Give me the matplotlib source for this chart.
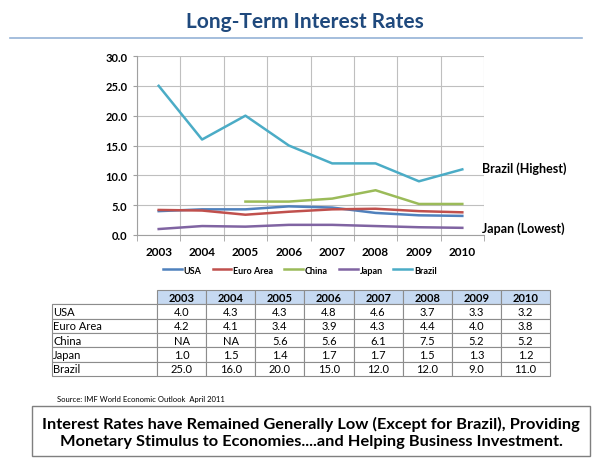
import numpy as np
import matplotlib
matplotlib.use("Agg")
import matplotlib.pyplot as plt
from matplotlib.table import Table
from matplotlib.patches import Rectangle
from matplotlib.lines import Line2D

plt.rcParams['font.family'] = ['Lato', 'DejaVu Sans']

# Datos
years = ['2003', '2004', '2005', '2006', '2007', '2008', '2009', '2010']
usa = [4.0, 4.3, 4.3, 4.8, 4.6, 3.7, 3.3, 3.2]
euro = [4.2, 4.1, 3.4, 3.9, 4.3, 4.4, 4.0, 3.8]
china = [np.nan, np.nan, 5.6, 5.6, 6.1, 7.5, 5.2, 5.2]
japan = [1.0, 1.5, 1.4, 1.7, 1.7, 1.5, 1.3, 1.2]
brazil = [25.0, 16.0, 20.0, 15.0, 12.0, 12.0, 9.0, 11.0]
series_names = ['USA', 'Euro Area', 'China', 'Japan', 'Brazil']
series_vals = [usa, euro, china, japan, brazil]
colors = ['#4F81BD', '#C0504D', '#9BBB59', '#8064A2', '#4BACC6']

W, H = 600, 464
fig = plt.figure(figsize=(6, 4.64), dpi=100)

def fx(px):
    return px / W

def fy(py):
    return 1 - py / H

# Titulo y linea
fig.text(fx(305), fy(22), 'Long-Term Interest Rates', ha='center', va='center',
         fontsize=15, fontweight='bold', color='#1F497D')
fig.add_artist(Line2D([fx(10), fx(582)], [fy(39), fy(39)], color='#95B3D7', lw=1.2))

# Grafico de lineas
ax = fig.add_axes([fx(137), fy(236), fx(484) - fx(137), fy(57) - fy(236)])
x = np.arange(len(years))
for name, vals, c in zip(series_names, series_vals, colors):
    ax.plot(x, vals, color=c, lw=1.8, label=name)

ax.set_xlim(-0.5, len(years) - 0.5)
ax.set_ylim(0, 30)
ax.set_yticks(np.arange(0, 31, 5))
ax.set_yticklabels([f'{v:.1f}' for v in np.arange(0, 31, 5)], fontsize=8, fontweight='bold')
ax.set_xticks(x)
ax.set_xticklabels(years, fontsize=8.5, fontweight='bold')
ax.set_xticks(np.arange(-0.5, len(years)), minor=True)
ax.tick_params(axis='x', which='major', length=0, pad=8)
ax.tick_params(axis='x', which='minor', length=4, color='#A0A0A0')
ax.tick_params(axis='y', length=3, color='#A0A0A0', pad=4)
ax.grid(axis='y', which='major', color='#BFBFBF', lw=0.8)
ax.grid(axis='x', which='minor', color='#BFBFBF', lw=0.8)
for s in ['top', 'right']:
    ax.spines[s].set_visible(False)
for s in ['left', 'bottom']:
    ax.spines[s].set_color('#A0A0A0')
ax.set_axisbelow(True)

ax.annotate('Brazil (Highest)', xy=(len(years) - 1, brazil[-1]), xytext=(14, 1),
            textcoords='offset points', fontsize=9, fontweight='bold', va='center',
            annotation_clip=False)
ax.annotate('Japan (Lowest)', xy=(len(years) - 1, japan[-1]), xytext=(14, 0),
            textcoords='offset points', fontsize=9, fontweight='bold', va='center',
            annotation_clip=False)

fig.legend(loc='center', bbox_to_anchor=(fx(300), fy(271)), ncol=5, frameon=False,
           prop={'size': 6.5, 'weight': 'bold'}, handlelength=2.1, columnspacing=1.2,
           handletextpad=0.2)

# Tabla
tax = fig.add_axes([fx(52), fy(377), fx(550) - fx(52), fy(291) - fy(377)])
tax.axis('off')
tbl = Table(tax, bbox=[0, 0, 1, 1])
lab_w = 105
col_w = (498 - lab_w) / len(years)
n_rows = len(series_names) + 1
row_h = 1.0 / n_rows
edge = '#8C8C8C'
for j, yr in enumerate([''] + years):
    w = lab_w if j == 0 else col_w
    cell = tbl.add_cell(0, j, w, row_h, text=yr, loc='center',
                        facecolor='white' if j == 0 else '#C6D9F1', edgecolor=edge)
    cell.get_text().set_fontweight('bold')
    if j == 0:
        cell.visible_edges = 'B'
for i, (name, vals) in enumerate(zip(series_names, series_vals), start=1):
    tbl.add_cell(i, 0, lab_w, row_h, text=name, loc='left', edgecolor=edge)
    for j, v in enumerate(vals, start=1):
        txt = 'NA' if np.isnan(v) else f'{v:.1f}'
        tbl.add_cell(i, j, col_w, row_h, text=txt, loc='center', edgecolor=edge)
tbl.auto_set_font_size(False)
tbl.set_fontsize(8)
for cell in tbl.get_celld().values():
    cell.set_linewidth(0.8)
    cell.PAD = 0.01
tax.add_table(tbl)

fig.text(fx(57), fy(400), 'Source: IMF World Economic Outlook  April 2011',
         fontsize=5.5, va='center')

# Recuadro con conclusion
fig.add_artist(Rectangle((fx(32), fy(457)), fx(590) - fx(32), fy(407) - fy(457),
                         transform=fig.transFigure, fill=False, edgecolor='#7F7F7F', lw=1))
fig.text(fx(311), fy(433),
         'Interest Rates have Remained Generally Low (Except for Brazil), Providing\n'
         'Monetary Stimulus to Economies....and Helping Business Investment.',
         ha='center', va='center', fontsize=11.8, fontweight='bold', linespacing=1.2)

fig.savefig('out.png', dpi=100)
